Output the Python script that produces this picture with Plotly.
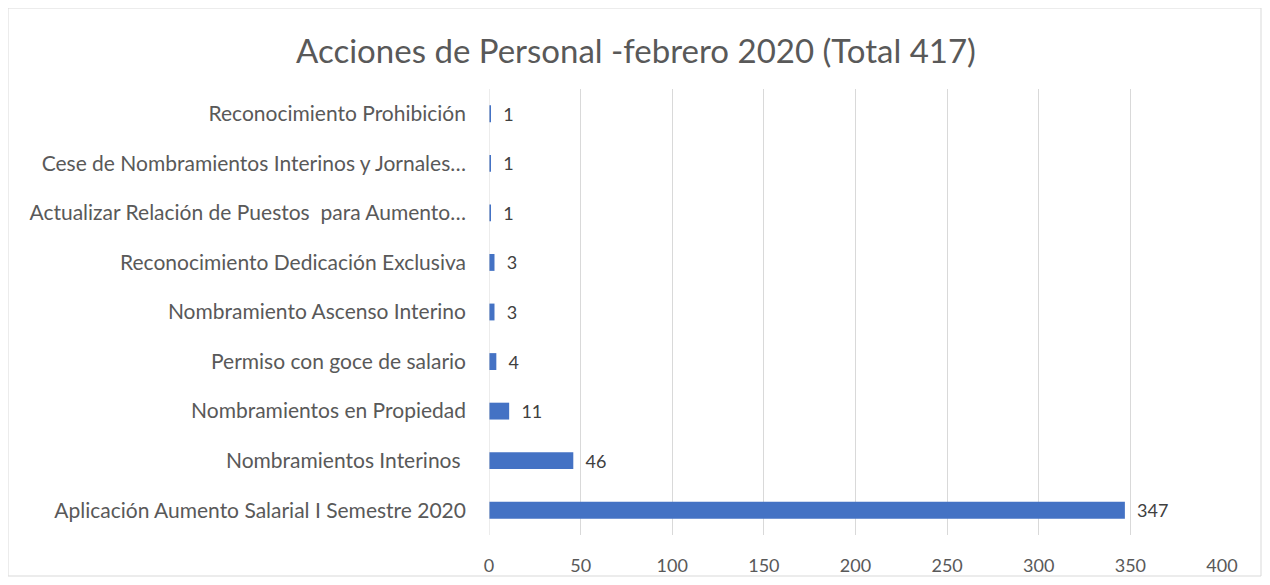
import plotly.graph_objects as go

categories = [
    "Aplicación Aumento Salarial I Semestre 2020",
    "Nombramientos Interinos ",
    "Nombramientos en Propiedad",
    "Permiso con goce de salario",
    "Nombramiento Ascenso Interino",
    "Reconocimiento Dedicación Exclusiva",
    "Actualizar Relación de Puestos  para Aumento…",
    "Cese de Nombramientos Interinos y Jornales…",
    "Reconocimiento Prohibición",
]
values = [347, 46, 11, 4, 3, 3, 1, 1, 1]
x_ticks = [0, 50, 100, 150, 200, 250, 300, 350, 400]

# page has 8px body margin
OFF = 8
W, H = 1270 - 2 * OFF, 585 - 2 * OFF
L = 489 - OFF
T = 89 - OFF
R = W - (1222 - OFF)
B = H - (535 - OFF)
pw, ph = W - L - R, H - T - B

def px_x(p):
    return (p - L) / pw

def px_y(p):
    return (H - B - p) / ph

FONT = "Lato, sans-serif"

fig = go.Figure(go.Bar(
    y=categories, x=values, orientation="h",
    marker=dict(color="#4472C4", line=dict(width=0)),
    width=0.34,
    texttemplate="\u00a0\u00a0%{x}", textposition="outside",
    textfont=dict(family=FONT, size=18, color="#404040"),
    constraintext="none",
    cliponaxis=False,
))

fig.update_layout(
    width=W, height=H,
    margin=dict(l=L, r=R, t=T, b=B, autoexpand=False),
    paper_bgcolor="white", plot_bgcolor="white",
    title=dict(text="Acciones de Personal -febrero 2020 (Total 417)",
               x=(636 - OFF) / W, xref="container", xanchor="center",
               y=1 - (51 - OFF) / H, yref="container", yanchor="middle",
               font=dict(family=FONT, size=33, color="#595959")),
    showlegend=False,
    shapes=[dict(type="rect", xref="paper", yref="paper",
                 x0=px_x(0), x1=px_x(W - 1), y0=px_y(H - 1), y1=px_y(0),
                 line=dict(color="#D9D9D9", width=1), fillcolor="rgba(0,0,0,0)",
                 layer="below")],
)
fig.update_xaxes(range=[0, 400], tickvals=x_ticks, showgrid=True, gridcolor="#D9D9D9",
                 gridwidth=1, zeroline=False, showline=False, ticks="",
                 tickfont=dict(family=FONT, size=18, color="#595959"),
                 ticklabelstandoff=18, automargin=False)
fig.update_yaxes(showgrid=False, zeroline=False, showline=False, ticks="",
                 tickfont=dict(family=FONT, size=21, color="#595959"),
                 ticklabelstandoff=22, automargin=False)
fig.add_vline(x=0, line=dict(color="#D9D9D9", width=1))

fig.write_html("out.html")
